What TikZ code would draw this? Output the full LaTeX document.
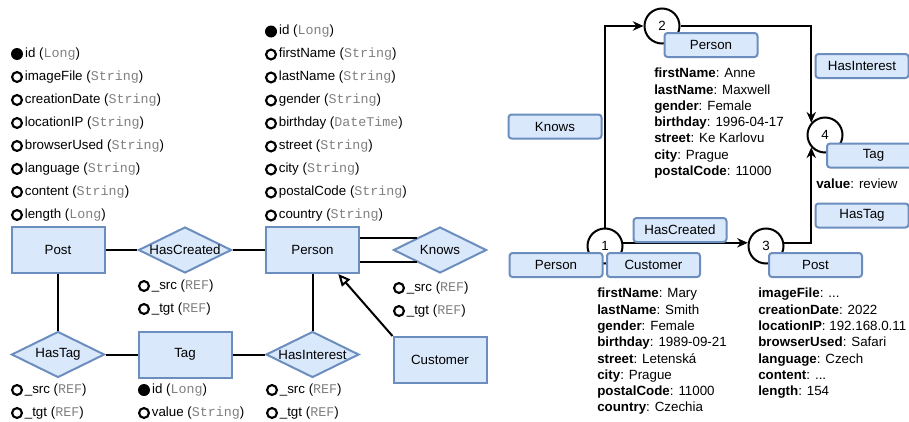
\documentclass[tikz,border=0pt]{standalone}
\usepackage{fontspec}
\setmainfont{Liberation Sans}
\setmonofont{Liberation Mono}
\usetikzlibrary{shapes.geometric, arrows.meta, positioning}

\definecolor{erfill}{HTML}{DAE8FC}
\definecolor{erdraw}{HTML}{6C8EBF}
\definecolor{typegray}{HTML}{808080}

\newcommand{\dtype}[1]{{\ttfamily\color{typegray}#1}}

\begin{document}
\begin{tikzpicture}[x=0.75pt, y=-0.75pt,
    font=\fontsize{10}{12.2}\selectfont,
    entity/.style={draw=erdraw, fill=erfill, line width=1.5pt, minimum width=69.75pt, minimum height=34.5pt, inner sep=0pt},
    relation/.style={diamond, draw=erdraw, fill=erfill, line width=1.5pt, minimum width=69.75pt, minimum height=34.5pt, inner sep=0pt},
    keydot/.style={circle, fill=black, minimum size=9pt, inner sep=0pt},
    attrdot/.style={circle, draw=black, line width=1.6pt, minimum size=7.4pt, inner sep=0pt},
    attrtext/.style={inner sep=0pt},
    link/.style={line width=1.5pt},
    isa/.style={line width=1.5pt, -{Triangle[open, fill=white, length=9pt, width=8pt]}},
    vertex/.style={circle, draw=black, fill=white, line width=1.5pt, minimum size=26.25pt, inner sep=0pt},
    tagbox/.style={draw=erdraw, fill=erfill, line width=1.5pt, rounded corners=2.25pt, minimum width=69.75pt, minimum height=18pt, inner sep=0pt},
    flow/.style={line width=1.5pt, -{Stealth[length=8pt, width=7pt]}},
    props/.style={align=left, inner sep=0pt, anchor=north west}
]
    \useasboundingbox (0,0) rectangle (909,421);

    % schema
    \node[entity] (post) at (58,250) {Post};
    \node[relation] (hascreated) at (185,250) {\makebox[0pt]{HasCreated}};
    \node[entity] (person) at (312.5,250) {Person};
    \node[relation] (knows) at (440,250) {\makebox[0pt]{Knows}};
    \node[relation] (hastag) at (58,354.5) {\makebox[0pt]{HasTag}};
    \node[entity] (tag) at (185,354.5) {Tag};
    \node[relation] (hasinterest) at (312.5,354.5) {\makebox[0pt]{HasInterest}};
    \node[entity] (customer) at (440,360) {Customer};

    \draw[link] (post) -- (hascreated);
    \draw[link] (hascreated) -- (person);
    \draw[link] (knows.152) -- (knows.152 -| person.east);
    \draw[link] (knows.208) -- (knows.208 -| person.east);
    \draw[link] (post) -- (hastag);
    \draw[link] (hastag) -- (tag);
    \draw[link] (tag) -- (hasinterest);
    \draw[link] (person) -- (hasinterest);
    \draw[isa] (customer.north west) -- (person.-43);

    % attributes
    \foreach \s/\n/\t [count=\i] in {keydot/id/Long, attrdot/imageFile/String, attrdot/creationDate/String,
        attrdot/locationIP/String, attrdot/browserUsed/String, attrdot/language/String,
        attrdot/content/String, attrdot/length/Long} {
        \node[\s] (post-dot\i) at (17,31+23*\i) {};
        \node[attrtext, right=1.2pt of post-dot\i] (post-attr\i) {\n\ (\dtype{\t})};
    }
    \foreach \s/\n/\t [count=\i] in {keydot/id/Long, attrdot/firstName/String, attrdot/lastName/String,
        attrdot/gender/String, attrdot/birthday/DateTime, attrdot/street/String,
        attrdot/city/String, attrdot/postalCode/String, attrdot/country/String} {
        \node[\s] (person-dot\i) at (271,8.5+23*\i) {};
        \node[attrtext, right=1.2pt of person-dot\i] (person-attr\i) {\n\ (\dtype{\t})};
    }
    \foreach \s/\n/\t [count=\i] in {keydot/id/Long, attrdot/value/String} {
        \node[\s] (tag-dot\i) at (144,367+23*\i) {};
        \node[attrtext, right=1.2pt of tag-dot\i] (tag-attr\i) {\n\ (\dtype{\t})};
    }
    \foreach \r/\x/\y in {hascreated/144/286, knows/399/288, hastag/17/390, hasinterest/272/390} {
        \node[attrdot] (\r-dot1) at (\x,\y) {};
        \node[attrtext, right=1.2pt of \r-dot1] (\r-attr1) {\_src (\dtype{REF})};
        \node[attrdot] (\r-dot2) at (\x,\y+23) {};
        \node[attrtext, right=1.2pt of \r-dot2] (\r-attr2) {\_tgt (\dtype{REF})};
    }

    % instance graph
    \node[vertex] (v1) at (605,246) {1};
    \node[vertex] (v2) at (662,26) {2};
    \node[vertex] (v3) at (766,246) {3};
    \node[vertex] (v4) at (825,135) {4};

    \draw[flow] (v1.north) |- (v2.west);
    \draw[flow] (v2.east) -| (v4.138);
    \draw[flow] (v1.10) -- (v3.170);
    \draw[flow] (v3.10) -| (v4.222);

    \node[tagbox] (v2-person) at (711,45) {Person};
    \node[tagbox] (e-hasinterest) at (862,66) {HasInterest};
    \node[tagbox] (e-knows) at (555,126.5) {Knows};
    \node[tagbox] (v4-tag) at (873.5,155.5) {Tag};
    \node[tagbox] (e-hastag) at (862,215.5) {HasTag};
    \node[tagbox] (e-hascreated) at (680,230) {HasCreated};
    \node[tagbox] (v1-person) at (556,265) {Person};
    \node[tagbox] (v1-customer) at (653.5,265) {Customer};
    \node[tagbox] (v3-post) at (815.5,265) {Post};

    \node[props] (v2-props) at (654,68) {\textbf{firstName}: Anne\\ \textbf{lastName}: Maxwell\\
        \textbf{gender}: Female\\ \textbf{birthday}: 1996-04-17\\ \textbf{street}: Ke Karlovu\\
        \textbf{city}: Prague\\ \textbf{postalCode}: 11000};
    \node[anchor=base west, inner sep=0pt] (v4-props) at (816,188) {\textbf{value}: review};
    \node[props] (v1-props) at (597,288) {\textbf{firstName}: Mary\\ \textbf{lastName}: Smith\\
        \textbf{gender}: Female\\ \textbf{birthday}: 1989-09-21\\ \textbf{street}: Letenská\\
        \textbf{city}: Prague\\ \textbf{postalCode}: 11000\\ \textbf{country}: Czechia};
    \node[props] (v3-props) at (758,288) {\textbf{imageFile}: ...\\ \textbf{creationDate}: 2022\\
        \textbf{locationIP}: 192.168.0.11\\ \textbf{browserUsed}: Safari\\ \textbf{language}: Czech\\
        \textbf{content}: ...\\ \textbf{length}: 154};
\end{tikzpicture}
\end{document}
